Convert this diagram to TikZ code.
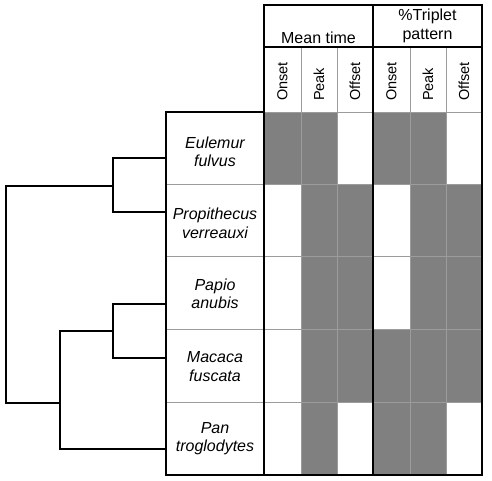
\documentclass[tikz,border=0pt]{standalone}
\usepackage{fontspec}
\setmainfont{Liberation Sans}
\definecolor{cellgray}{HTML}{808080}
\definecolor{gridgray}{HTML}{9C9C9C}
\begin{document}
\begin{tikzpicture}[x=1pt,y=-1pt,
  heavy/.style={line width=2.8pt, draw=black},
  light/.style={line width=0.9pt, draw=gridgray},
  branch/.style={line width=2.8pt, draw=black, line join=miter},
  taxon/.style={font=\fontsize{16}{18.3}\selectfont\itshape, align=center, inner sep=0pt, anchor=base},
  headtxt/.style={font=\fontsize{16}{18.3}\selectfont, align=center, inner sep=0pt, anchor=base},
  subhead/.style={font=\fontsize{14.5}{17}\selectfont, rotate=90, anchor=west, inner sep=0pt}]
\useasboundingbox (0,0) rectangle (492,480);

% column and row edges of the table
\def\colx{{264,301,337,373,410,446,482}}
\def\rowy{{112,184,256,329,402,475}}

% shaded cells (1 = shaded), one row per taxon
\foreach \pat [count=\r from 0] in {{1,1,0,1,1,0},{0,1,1,0,1,1},{0,1,1,0,1,1},{0,1,1,1,1,1},{0,1,0,1,1,0}} {
  \foreach \v [count=\c from 0] in \pat {
    \ifnum\v=1
      \fill[cellgray] ({\colx[\c]},{\rowy[\r]}) rectangle ({\colx[\c+1]},{\rowy[\r+1]});
    \fi
  }
}

% thin grid lines
\foreach \xx in {301,337,410,446} \draw[light] (\xx,47) -- (\xx,475);
\foreach \yy in {112,184,256,329,402} \draw[light] (264,\yy) -- (482,\yy);
\foreach \yy in {184,256,329,402} \draw[light] (166,\yy) -- (264,\yy);

% heavy rules
\draw[heavy] (264,5) rectangle (482,475);
\draw[heavy] (264,47) -- (482,47);
\draw[heavy] (373,5) -- (373,475);
\draw[heavy] (166,112) rectangle (264,475);

% header texts (base = baseline of the last line)
\node[headtxt] (meantime) at (318.5,43) {Mean time};
\node[headtxt] (triplet) at (427.5,39) {\%Triplet\\pattern};
\node[subhead] (on1) at (282.5,101) {Onset};
\node[subhead] (pk1) at (319,101) {Peak};
\node[subhead] (of1) at (355,101) {Offset};
\node[subhead] (on2) at (391.5,101) {Onset};
\node[subhead] (pk2) at (428,101) {Peak};
\node[subhead] (of2) at (464,101) {Offset};

% taxa
\node[taxon] (eulemur) at (215,166.5) {Eulemur\\fulvus};
\node[taxon] (propith) at (215,238) {Propithecus\\verreauxi};
\node[taxon] (papio) at (215,308.5) {Papio\\anubis};
\node[taxon] (macaca) at (215,381) {Macaca\\fuscata};
\node[taxon] (pan) at (215,451.5) {Pan\\troglodytes};

% tree: leaves and internal nodes
\coordinate (lfEu) at (166,158);
\coordinate (lfPr) at (166,212);
\coordinate (lfPa) at (166,304);
\coordinate (lfMa) at (166,358);
\coordinate (lfPn) at (166,449);
\coordinate (strep) at (113,186);
\coordinate (papion) at (113,331);
\coordinate (catar) at (60,403);
\coordinate (root) at (6,295);

\draw[branch] (lfEu) -| (strep) |- (lfPr);
\draw[branch] (lfPa) -| (papion) |- (lfMa);
\draw[branch] (papion) -| (catar) |- (lfPn);
\draw[branch] (strep) -| (root) |- (catar);
\end{tikzpicture}
\end{document}
